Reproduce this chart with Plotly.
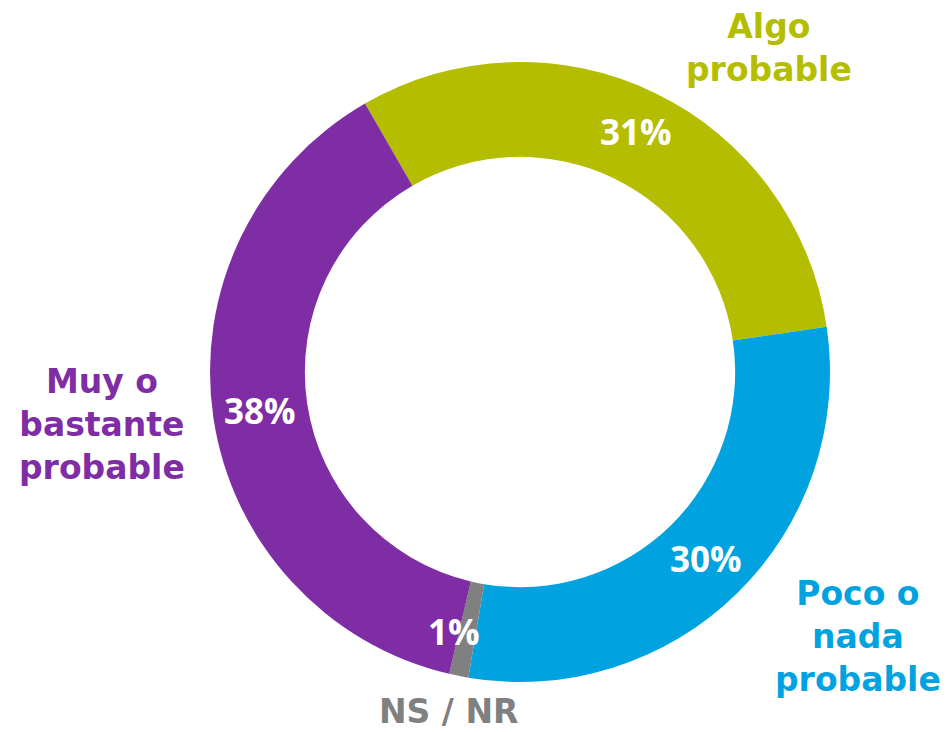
import math
import plotly.graph_objects as go

categories = ["Algo probable", "Poco o nada probable", "NS / NR", "Muy o bastante probable"]
values = [31, 30, 1, 38]
label_texts = ["Algo<br>probable", "Poco o<br>nada<br>probable", "NS / NR", "Muy o<br>bastante<br>probable"]
colors = ["#B5BD00", "#00A3E0", "#808080", "#7F2DA4"]

W, H = 951, 732
OFF = 8  # page body margin shift
cx, cy, R = 520 - OFF, 372 - OFF, 310
HOLE = 0.694
ROT = -30

fig = go.Figure(go.Pie(
    labels=categories,
    values=values,
    sort=False,
    direction="clockwise",
    rotation=ROT,
    hole=HOLE,
    marker=dict(colors=colors, line=dict(width=0)),
    textinfo="none",
    showlegend=False,
    hoverinfo="skip",
    domain=dict(x=[(cx - R) / W, (cx + R) / W], y=[(H - cy - R) / H, (H - cy + R) / H]),
))

# percentage labels at the middle of each ring segment (derived from values)
total = sum(values)
pct_nudge = [(2, -4), (2, -1), (-14, 2), (0, 0)]
start = ROT
rmid = R * (1 + HOLE) / 2
for v, (dx, dy) in zip(values, pct_nudge):
    span = 360 * v / total
    mid = math.radians(start + span / 2)
    start += span
    px = cx + rmid * math.sin(mid) + dx
    py = cy - rmid * math.cos(mid) + dy
    fig.add_annotation(
        x=px / W, y=1 - py / H, xref="paper", yref="paper",
        text=f"{round(100 * v / total)}%", showarrow=False,
        xanchor="center", yanchor="middle",
        font=dict(family="Open Sans", size=35, color="white", weight="bold"),
    )

label_pos = [(769, 48), (858, 636), (448, 711), (102, 424)]
for (x, y), t, c in zip(label_pos, label_texts, colors):
    fig.add_annotation(
        x=(x - OFF) / W, y=1 - (y - OFF) / H, xref="paper", yref="paper",
        text=t, showarrow=False, xanchor="center", yanchor="middle",
        align="center",
        font=dict(family="DejaVu Sans", size=33, color=c, weight="bold"),
    )

fig.update_layout(
    width=W, height=H,
    margin=dict(l=0, r=0, t=0, b=0),
    paper_bgcolor="white",
    plot_bgcolor="white",
)

fig.write_html("out.html")
